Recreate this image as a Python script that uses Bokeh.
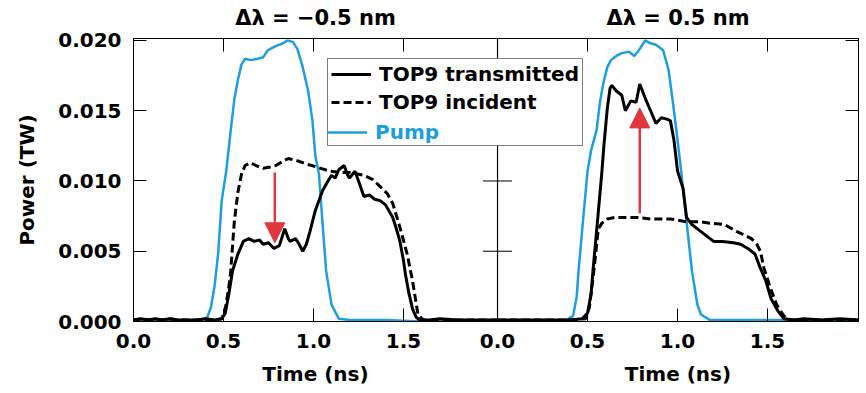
from bokeh.plotting import figure
from bokeh.models import (Range1d, LinearAxis, FixedTicker, CustomJSTickFormatter,
                          NumeralTickFormatter, Legend, LegendItem,
                          Arrow, NormalHead)
from bokeh.embed import file_html
from bokeh.resources import INLINE

# ---------------- data ----------------
panel_titles = ["\u0394\u03bb = \u22120.5 nm", "\u0394\u03bb = 0.5 nm"]
x_label = "Time (ns)"
y_label = "Power (TW)"
legend_labels = ["TOP9 transmitted", "TOP9 incident", "Pump"]
time_ticks = [0.0, 0.5, 1.0, 1.5]
top_ticks = [0.5, 1.0, 1.5]
power_ticks = [0.0, 0.005, 0.010, 0.015, 0.020]

# left panel (delta lambda = -0.5 nm)
left_pump_t = [0.0, 0.1, 0.2, 0.3, 0.38, 0.41, 0.43, 0.45, 0.47, 0.49, 0.515, 0.54, 0.56, 0.58,
               0.60, 0.62, 0.65, 0.69, 0.72, 0.745, 0.79, 0.83, 0.855, 0.885, 0.91, 0.94, 0.97,
               0.994, 1.01, 1.03, 1.05, 1.07, 1.10, 1.14, 1.2, 1.4, 1.6, 1.8, 2.02]
left_pump_p = [0.0, 0.0, 0.00005, 0.0, 0.0001, 0.0003, 0.0010, 0.0025, 0.0048, 0.0086, 0.0107,
               0.0136, 0.0158, 0.0172, 0.0183, 0.0187, 0.0186, 0.0187, 0.0188, 0.0193, 0.0196,
               0.0198, 0.0200, 0.0199, 0.0194, 0.0181, 0.0164, 0.0143, 0.0118, 0.0105, 0.0070,
               0.0036, 0.0012, 0.0002, 0.0001, 0.0001, 0.0, 0.0, 0.0]

left_inc_t = [0.0, 0.05, 0.1, 0.15, 0.2, 0.25, 0.3, 0.35, 0.4, 0.45, 0.49, 0.51, 0.53, 0.54, 0.56,
              0.58, 0.60, 0.62, 0.65, 0.68, 0.72, 0.76, 0.79, 0.83, 0.86, 0.89, 0.92, 0.96, 0.99,
              1.04, 1.09, 1.15, 1.2, 1.28, 1.33, 1.37, 1.41, 1.44, 1.48, 1.52, 1.55, 1.58, 1.61,
              1.7, 1.8, 1.9, 2.02]
left_inc_p = [0.0001, 0.0002, 0.0001, 0.0001, 0.0002, 0.0001, 0.0001, 0.0001, 0.0001, 0.0001,
              0.0002, 0.0009, 0.0025, 0.0036, 0.0071, 0.0092, 0.0105, 0.0111, 0.0113, 0.0111,
              0.0109, 0.0110, 0.0111, 0.0114, 0.0116, 0.0115, 0.0114, 0.0112, 0.0111, 0.0109,
              0.0107, 0.0106, 0.0106, 0.0104, 0.0101, 0.0096, 0.0091, 0.0084, 0.0067, 0.0048,
              0.0029, 0.0005, 0.0001, 0.0001, 0.0001, 0.0001, 0.0001]

left_tr_t = [0.0, 0.04, 0.08, 0.12, 0.16, 0.2, 0.25, 0.3, 0.35, 0.4, 0.45, 0.49, 0.51, 0.53, 0.55,
             0.58, 0.61, 0.64, 0.67, 0.70, 0.72, 0.75, 0.78, 0.81, 0.83, 0.84, 0.86, 0.87, 0.9,
             0.92, 0.94, 0.96, 0.98, 1.01, 1.05, 1.08, 1.10, 1.12, 1.14, 1.17, 1.19, 1.2, 1.23,
             1.25, 1.28, 1.31, 1.34, 1.37, 1.40, 1.44, 1.46, 1.48, 1.50, 1.51, 1.53, 1.55, 1.57,
             1.59, 1.65, 1.7, 1.8, 1.9, 2.02]
left_tr_p = [0.0001, 0.0002, 0.0001, 0.0002, 0.0001, 0.0002, 0.0001, 0.0001, 0.0001, 0.0002,
             0.0001, 0.0002, 0.0006, 0.0020, 0.0036, 0.0048, 0.0057, 0.0059, 0.0057, 0.0058,
             0.0055, 0.0056, 0.0052, 0.0054, 0.0062, 0.0066, 0.0059, 0.0057, 0.0059, 0.0055,
             0.0050, 0.0055, 0.0064, 0.0079, 0.0093, 0.0100, 0.0104, 0.0102, 0.0108, 0.0111,
             0.0104, 0.0102, 0.0107, 0.0100, 0.0089, 0.0090, 0.0087, 0.0086, 0.0083, 0.0074,
             0.0066, 0.0057, 0.0043, 0.0034, 0.0020, 0.0009, 0.0003, 0.0001, 0.0001, 0.0002,
             0.0001, 0.0001, 0.0001]

# right panel (delta lambda = +0.5 nm)
right_pump_t = [0.0, 0.2, 0.38, 0.42, 0.44, 0.45, 0.47, 0.50, 0.52, 0.55, 0.57, 0.59, 0.61, 0.63,
                0.66, 0.69, 0.73, 0.76, 0.785, 0.81, 0.82, 0.85, 0.88, 0.92, 0.95, 0.975, 1.0,
                1.02, 1.05, 1.08, 1.11, 1.13, 1.18, 1.4, 1.6, 2.01]
right_pump_p = [0.0, 0.0, 0.0001, 0.0004, 0.0018, 0.0036, 0.0065, 0.0107, 0.0122, 0.0136, 0.0157,
                0.0171, 0.0181, 0.0186, 0.0189, 0.0191, 0.0192, 0.0189, 0.0193, 0.0198, 0.0200,
                0.0198, 0.0197, 0.0193, 0.0179, 0.0155, 0.0129, 0.0107, 0.0071, 0.0036, 0.0012,
                0.0005, 0.0001, 0.0001, 0.0001, 0.0001]

right_inc_t = [0.0, 0.2, 0.4, 0.49, 0.51, 0.535, 0.56, 0.58, 0.61, 0.65, 0.7, 0.78, 0.85, 0.96,
               1.05, 1.12, 1.18, 1.26, 1.33, 1.41, 1.44, 1.46, 1.48, 1.51, 1.55, 1.59, 1.62, 1.8,
               2.01]
right_inc_p = [0.0001, 0.0001, 0.0001, 0.0002, 0.0010, 0.0036, 0.0066, 0.0070, 0.0073, 0.0074,
               0.0074, 0.0074, 0.0073, 0.0073, 0.0071, 0.0071, 0.0070, 0.0069, 0.0064, 0.0059,
               0.0055, 0.0050, 0.0038, 0.0026, 0.0012, 0.0004, 0.0001, 0.0001, 0.0001]

right_tr_t = [0.0, 0.1, 0.2, 0.3, 0.4, 0.47, 0.50, 0.52, 0.53, 0.555, 0.58, 0.59, 0.61, 0.625,
              0.635, 0.66, 0.69, 0.71, 0.74, 0.77, 0.79, 0.82, 0.85, 0.88, 0.91, 0.94, 0.96, 0.98,
              1.0, 1.03, 1.05, 1.08, 1.10, 1.13, 1.15, 1.2, 1.25, 1.31, 1.35, 1.39, 1.43, 1.46,
              1.49, 1.52, 1.56, 1.59, 1.65, 1.7, 1.8, 1.9, 2.01]
right_tr_p = [0.0001, 0.0001, 0.0001, 0.0001, 0.0001, 0.0002, 0.0006, 0.0020, 0.0036, 0.0071,
              0.0107, 0.0124, 0.0152, 0.0166, 0.0168, 0.0164, 0.0161, 0.0150, 0.0157, 0.0156,
              0.0169, 0.0159, 0.0150, 0.0141, 0.0145, 0.0144, 0.0143, 0.0129, 0.0107, 0.0095,
              0.0074, 0.0069, 0.0067, 0.0064, 0.0062, 0.0057, 0.0057, 0.0056, 0.0055, 0.0052,
              0.0048, 0.0038, 0.0029, 0.0016, 0.0007, 0.0002, 0.0001, 0.0002, 0.0001, 0.0002,
              0.0001]

# red arrows: (t, start power, end power)
left_arrow = [0.785, 0.0106, 0.0056]
right_arrow = [0.79, 0.0077, 0.0152]

# ---------------- styling / layout ----------------
FONT = "DejaVu Sans"
BLUE = "#1c9fdc"
RED = "#e0373e"
LEFT_SPAN = 2.022     # ns shown in left panel
RIGHT_SPAN = 2.005    # ns shown in right panel
YMAX = 0.02014

p = figure(width=860, height=388, output_backend="svg", toolbar_location=None, tools="",
           x_range=Range1d(0, LEFT_SPAN + RIGHT_SPAN), y_range=Range1d(0, YMAX),
           x_axis_type=None, y_axis_type=None,
           min_border_left=133, min_border_right=2, min_border_top=38, min_border_bottom=20)
p.extra_x_ranges = {"right": Range1d(-LEFT_SPAN, RIGHT_SPAN)}
p.outline_line_color = "black"
p.outline_line_width = 1
p.background_fill_color = "white"
p.border_fill_color = "white"


def style_axis(ax, size="20px"):
    ax.major_tick_in = 13
    ax.major_tick_out = 0
    ax.minor_tick_line_color = None
    ax.axis_line_color = "black"
    ax.major_tick_line_color = "black"
    ax.major_tick_line_width = 1
    ax.major_label_text_font = FONT
    ax.major_label_text_font_style = "bold"
    ax.major_label_text_font_size = size
    ax.major_label_text_color = "black"


def label_axis(ax):
    # an axis that only carries one text per panel
    ax.major_tick_line_color = None
    ax.axis_line_color = None
    ax.major_tick_in = 0
    ax.major_tick_out = 0


blank = CustomJSTickFormatter(code="return '';")
panel_centres = [LEFT_SPAN / 2, LEFT_SPAN + RIGHT_SPAN / 2]

# bottom: time ticks of both panels
bottom_ticks = time_ticks + [t + LEFT_SPAN for t in time_ticks]
xb = LinearAxis(ticker=FixedTicker(ticks=bottom_ticks),
                formatter=CustomJSTickFormatter(args=dict(off=LEFT_SPAN),
                                                code="const v = tick >= off - 1e-6 ? tick - off : tick; return v.toFixed(1);"))
style_axis(xb)
xb.major_label_standoff = 12
p.add_layout(xb, "below")

# bottom: "Time (ns)" under each panel
xl = LinearAxis(ticker=FixedTicker(ticks=panel_centres),
                formatter=CustomJSTickFormatter(args=dict(lab=x_label), code="return lab;"))
style_axis(xl)
label_axis(xl)
xl.major_label_standoff = 11
p.add_layout(xl, "below")

# top: inward ticks only
xt = LinearAxis(ticker=FixedTicker(ticks=top_ticks + [t + LEFT_SPAN for t in top_ticks]),
                formatter=blank)
style_axis(xt, "0px")
xt.major_label_standoff = 0
p.add_layout(xt, "above")

# top: panel titles
xh = LinearAxis(ticker=FixedTicker(ticks=panel_centres),
                formatter=CustomJSTickFormatter(args=dict(off=LEFT_SPAN, a=panel_titles[0],
                                                          b=panel_titles[1]),
                                                code="return tick < off ? a : b;"))
style_axis(xh, "21px")
label_axis(xh)
xh.major_label_standoff = 9
p.add_layout(xh, "above")

# left axis
yl = LinearAxis(ticker=FixedTicker(ticks=power_ticks), formatter=NumeralTickFormatter(format="0.000"),
                axis_label=y_label)
style_axis(yl)
yl.major_label_standoff = 12
yl.axis_label_text_font = FONT
yl.axis_label_text_font_style = "bold"
yl.axis_label_text_font_size = "20px"
yl.axis_label_text_color = "black"
yl.axis_label_standoff = 16
p.add_layout(yl, "left")

# right axis: inward ticks only
yr = LinearAxis(ticker=FixedTicker(ticks=power_ticks), formatter=blank)
style_axis(yr, "0px")
yr.major_label_standoff = 0
p.add_layout(yr, "right")

# divider between the panels (x = 0 of the right panel), with crossing ticks
p.segment(x0=[0.0], x1=[0.0], y0=[power_ticks[0]], y1=[YMAX], line_color="black", line_width=1.2,
          x_range_name="right")
cross = 14.5 / (725 / (LEFT_SPAN + RIGHT_SPAN))
mid_ticks = power_ticks[1:-1]
p.segment(x0=[-cross] * len(mid_ticks), x1=[cross] * len(mid_ticks), y0=mid_ticks, y1=mid_ticks,
          line_color="black", line_width=1, x_range_name="right")

# curves
lp = p.line(left_pump_t, left_pump_p, line_color=BLUE, line_width=2.5)
li = p.line(left_inc_t, left_inc_p, line_color="black", line_width=3, line_dash="8 4")
lt = p.line(left_tr_t, left_tr_p, line_color="black", line_width=3)
rp = p.line(right_pump_t, right_pump_p, line_color=BLUE, line_width=2.5, x_range_name="right")
ri = p.line(right_inc_t, right_inc_p, line_color="black", line_width=3, line_dash="8 4",
            x_range_name="right")
rt = p.line(right_tr_t, right_tr_p, line_color="black", line_width=3, x_range_name="right")
spacer = p.line([], [], line_alpha=0)   # placeholder for the recoloured legend row

# arrows
p.add_layout(Arrow(end=NormalHead(size=20, fill_color=RED, line_color=RED),
                   x_start=left_arrow[0], y_start=left_arrow[1],
                   x_end=left_arrow[0], y_end=left_arrow[2],
                   line_color=RED, line_width=2.5))
p.add_layout(Arrow(end=NormalHead(size=20, fill_color=RED, line_color=RED),
                   x_start=right_arrow[0], y_start=right_arrow[1],
                   x_end=right_arrow[0], y_end=right_arrow[2],
                   line_color=RED, line_width=2.5, x_range_name="right"))

# legends (the second one draws the blue "Pump" row)
leg_common = dict(orientation="vertical", padding=3, spacing=4,
                  label_height=24, glyph_height=24, glyph_width=40, label_standoff=8,
                  label_text_font=FONT, label_text_font_style="bold", label_text_font_size="20px",
                  margin=0)
legA = Legend(items=[LegendItem(label=legend_labels[0], renderers=[lt]),
                     LegendItem(label=legend_labels[1], renderers=[li]),
                     LegendItem(label=" ", renderers=[spacer])],
              location=(194, 175),
              border_line_color="black", border_line_width=1.5,
              background_fill_color="white", background_fill_alpha=1.0,
              label_text_color="black", **leg_common)
legB = Legend(items=[LegendItem(label=legend_labels[2], renderers=[lp])],
              location=(194, 177),
              border_line_color=None, background_fill_alpha=0.0,
              label_text_color=BLUE, **leg_common)
p.add_layout(legA)
p.add_layout(legB)

open("out.html", "w").write(file_html(p, INLINE))
